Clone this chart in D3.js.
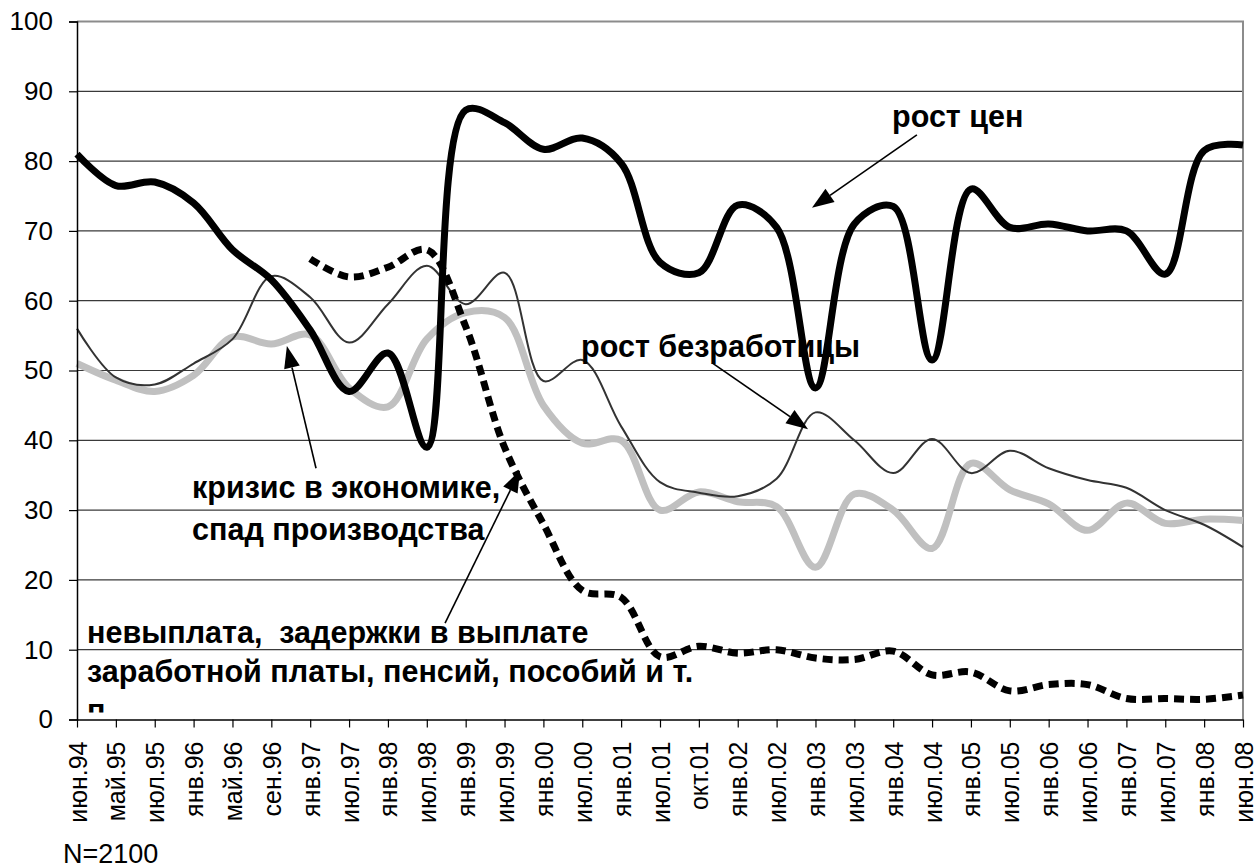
<!DOCTYPE html>
<html>
<head>
<meta charset="utf-8">
<script src="https://cdn.jsdelivr.net/npm/d3@7"></script>
<style>
  body { margin: 0; background: #fff; }
  svg { display: block; font-family: "Liberation Sans", Arial, sans-serif; }
</style>
</head>
<body>
<div id="chart"></div>
<script>
const categories = [
  "июн.94", "май.95", "июл.95", "янв.96", "май.96", "сен.96", "янв.97", "июл.97",
  "янв.98", "июл.98", "янв.99", "июл.99", "янв.00", "июл.00", "янв.01", "июл.01",
  "окт.01", "янв.02", "июл.02", "янв.03", "июл.03", "янв.04", "июл.04", "янв.05",
  "июл.05", "янв.06", "июл.06", "янв.07", "июл.07", "янв.08", "июн.08"
];

// рост цен
const prices = [
  81, 76.5, 77, 74, 67.3, 63, 55.8, 47, 52.5, 39, 87.3, 85.5, 81.7, 83.3, 79.7, 65.5,
  64, 73.7, 70.5, 47.5, 71, 73.5, 51.5, 76, 70.5, 71, 70, 70, 63.8, 81.5, 82.3
];

// рост безработицы
const unemployment = [
  56, 49, 48, 51, 54.5, 63.5, 60.5, 54, 59.5, 65, 59.5, 64, 48.5, 51.5, 42, 34,
  32.5, 32, 34.5, 44, 40, 35.3, 40.2, 35.3, 38.5, 36, 34.3, 33.2, 30, 27.9, 24.7
];

// кризис в экономике, спад производства
const crisis = [
  51, 48.6, 47, 49.3, 54.8, 53.8, 55.1, 47.5, 44.8, 54.5, 58.3, 57.6, 45, 39.6, 40, 30,
  32.6, 31.2, 30.5, 21.8, 32.3, 30, 24.5, 36.7, 32.9, 30.9, 27.1, 31, 28.1, 28.7, 28.5
];

// невыплата, задержки в выплате (нет данных до янв.97)
const arrears = [
  null, null, null, null, null, null, 66, 63.4, 64.8, 67.3, 56.3, 39, 28, 18.5, 17.5, 9,
  10.5, 9.5, 10, 8.8, 8.6, 9.8, 6.4, 6.8, 4.1, 5, 5, 3, 3, 2.9, 3.5
];

const yTicks = [0, 10, 20, 30, 40, 50, 60, 70, 80, 90, 100];

const fullWidth = 1254;
const fullHeight = 868;
const margin = { top: 21.5, right: 11, bottom: 148.5, left: 77 };
const width = fullWidth - margin.left - margin.right;
const height = fullHeight - margin.top - margin.bottom;

const svg = d3
  .select("#chart")
  .append("svg")
  .attr("width", fullWidth)
  .attr("height", fullHeight);

const g = svg
  .append("g")
  .attr("transform", `translate(${margin.left}, ${margin.top})`);

const xScale = d3.scalePoint().domain(categories).range([0, width]).padding(0);
// index scale for placing annotations between categories
const xIdx = d3.scaleLinear().domain([0, categories.length - 1]).range([0, width]);
const yScale = d3.scaleLinear().domain([0, 100]).range([height, 0]);

// gridlines
g.append("g")
  .selectAll("line")
  .data(yTicks.filter(t => t > 0 && t < 100))
  .join("line")
  .attr("x1", 0)
  .attr("x2", width)
  .attr("y1", d => yScale(d))
  .attr("y2", d => yScale(d))
  .attr("stroke", "#3a3a3a")
  .attr("stroke-width", 1.2);

// plot frame top / right (grey)
g.append("path")
  .attr("d", `M0,${yScale(100)}H${width}V${height}`)
  .attr("fill", "none")
  .attr("stroke", "#8c8c8c")
  .attr("stroke-width", 2);

const line = d3
  .line()
  .defined(d => d != null)
  .x((d, i) => xScale(categories[i]))
  .y(d => yScale(d))
  .curve(d3.curveCatmullRom.alpha(0.5));

g.append("path")
  .attr("d", line(crisis))
  .attr("fill", "none")
  .attr("stroke", "#c0c0c0")
  .attr("stroke-width", 7);

g.append("path")
  .attr("d", line(unemployment))
  .attr("fill", "none")
  .attr("stroke", "#333")
  .attr("stroke-width", 2);

g.append("path")
  .attr("d", line(prices))
  .attr("fill", "none")
  .attr("stroke", "#000")
  .attr("stroke-width", 7)
  .attr("stroke-linejoin", "round");

g.append("path")
  .attr("d", line(arrears))
  .attr("fill", "none")
  .attr("stroke", "#000")
  .attr("stroke-width", 7)
  .attr("stroke-dasharray", "10,6");

// axes
const yAxis = d3.axisLeft(yScale).tickValues(yTicks).tickSize(8).tickPadding(16);
const yG = g.append("g").call(yAxis);
yG.select(".domain").attr("stroke", "#000").attr("stroke-width", 1.5);
yG.selectAll(".tick line").attr("stroke", "#000").attr("stroke-width", 1.2);
yG.selectAll(".tick text")
  .attr("font-size", 26)
  .attr("fill", "#000")
  .style("font-family", "'Liberation Sans', Arial, sans-serif");

const xAxis = d3.axisBottom(xScale).tickSize(8).tickSizeOuter(0);
const xG = g.append("g").attr("transform", `translate(0, ${height})`).call(xAxis);
xG.select(".domain").attr("stroke", "#000").attr("stroke-width", 1.5);
xG.selectAll(".tick line").attr("stroke", "#000").attr("stroke-width", 1.2);
xG.selectAll(".tick text")
  .attr("font-size", 25)
  .attr("fill", "#000")
  .attr("text-anchor", "end")
  .attr("dy", null)
  .attr("dominant-baseline", "central")
  .attr("transform", "translate(0, 22) rotate(-90)")
  .attr("x", 0)
  .attr("y", 0)
  .style("font-family", "'Liberation Sans', Arial, sans-serif");

// annotations (text box is cut a little above the axis, as in the source)
svg.append("defs")
  .append("clipPath")
  .attr("id", "plotClip")
  .append("rect")
  .attr("x", 0)
  .attr("y", 0)
  .attr("width", width)
  .attr("height", height - 7);

const notes = [
  { lines: ["рост цен"], at: [20.97, 84.9], lh: 0 },
  { lines: ["рост безработицы"], at: [12.97, 51.9], lh: 0 },
  { lines: ["кризис в экономике,", "спад производства"], at: [2.96, 31.7], lh: 6.0 },
  {
    lines: ["невыплата,  задержки в выплате", "заработной платы, пенсий, пособий и т.", "п."],
    at: [0.26, 10.96],
    lh: 5.6
  }
];

const noteG = g.append("g").attr("clip-path", "url(#plotClip)");
notes.forEach(n => {
  n.lines.forEach((t, i) => {
    noteG
      .append("text")
      .attr("x", xIdx(n.at[0]))
      .attr("y", yScale(n.at[1] - i * n.lh))
      .attr("font-size", 30.5)
      .attr("font-weight", "bold")
      .attr("fill", "#000")
      .style("white-space", "pre")
      .text(t);
  });
});

const arrows = [
  { from: [21.61, 83.75], to: [18.91, 73.3] },
  { from: [16.34, 51.1], to: [18.81, 41.6] },
  { from: [6.15, 36.0], to: [5.40, 53.5] },
  { from: [9.47, 13.8], to: [11.4, 35.7] }
];

arrows.forEach(a => {
  const x1 = xIdx(a.from[0]);
  const y1 = yScale(a.from[1]);
  const x2 = xIdx(a.to[0]);
  const y2 = yScale(a.to[1]);
  const ang = Math.atan2(y2 - y1, x2 - x1);
  const len = 22;
  const half = 8;
  const bx = x2 - len * Math.cos(ang);
  const by = y2 - len * Math.sin(ang);
  g.append("line")
    .attr("x1", x1)
    .attr("y1", y1)
    .attr("x2", bx)
    .attr("y2", by)
    .attr("stroke", "#000")
    .attr("stroke-width", 1.6);
  g.append("path")
    .attr(
      "d",
      `M${x2},${y2}L${bx + half * Math.sin(ang)},${by - half * Math.cos(ang)}L${bx - half * Math.sin(ang)},${by + half * Math.cos(ang)}Z`
    )
    .attr("fill", "#000");
});

svg.append("text")
  .attr("x", 63)
  .attr("y", 863)
  .attr("font-size", 27)
  .attr("fill", "#000")
  .text("N=2100");
</script>
</body>
</html>
